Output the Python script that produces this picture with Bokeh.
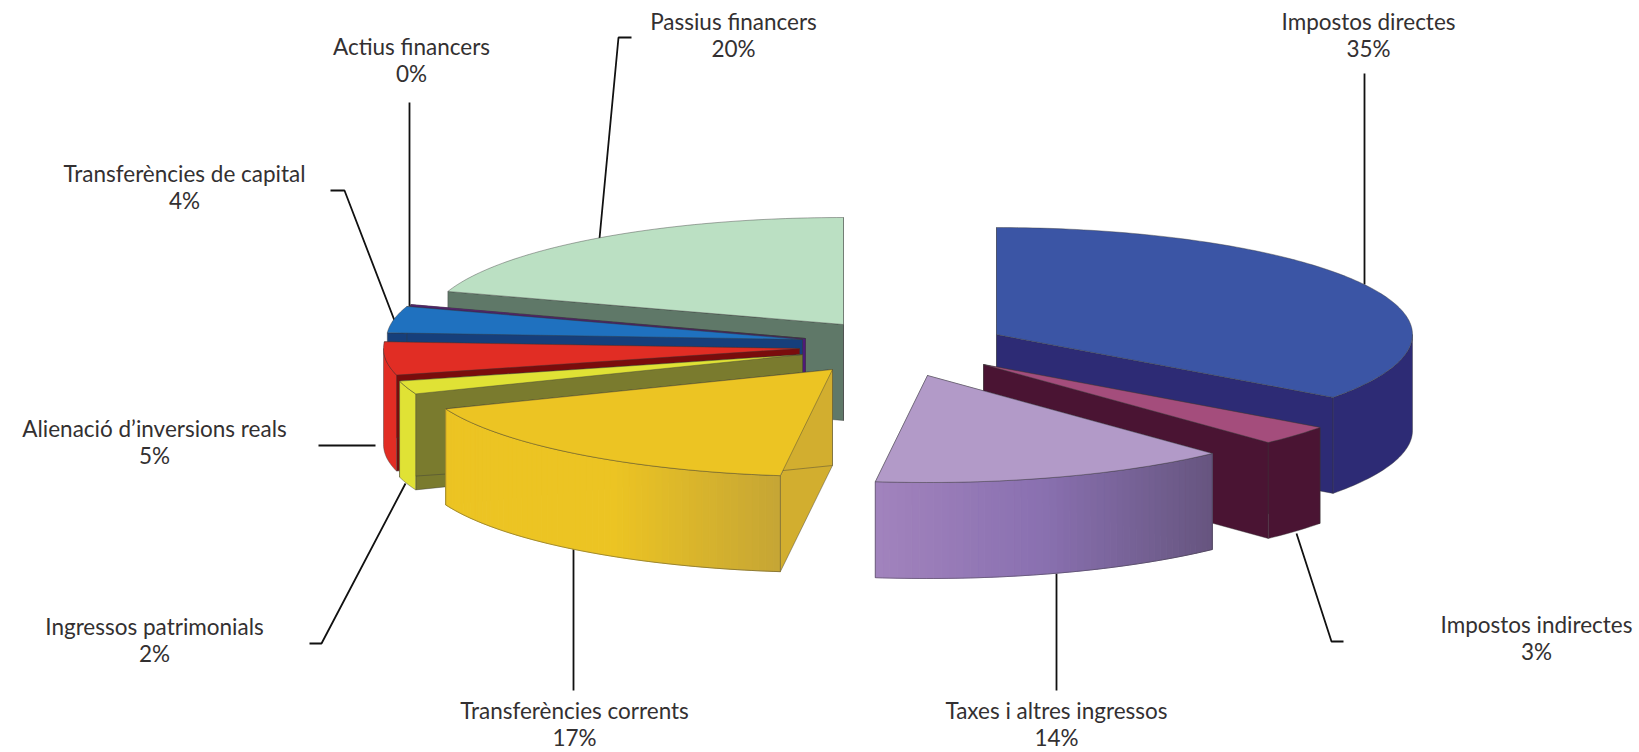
import math
from bokeh.plotting import figure
from bokeh.models import ColumnDataSource, Range1d
from bokeh.embed import file_html
from bokeh.resources import INLINE
from bokeh.core.properties import value

# ---- data (share of income, per cent, clockwise from 12 o'clock)
names = ["Impostos directes", "Impostos indirectes", "Taxes i altres ingressos",
         "Transferències corrents", "Ingressos patrimonials",
         "Alienació d’inversions reals", "Transferències de capital",
         "Actius financers", "Passius financers"]
values = [35, 3, 14, 17, 2, 5, 4, 0, 20]

# ---- styling / layout
top_colors = ["#3b55a5", "#a44d7c", "#b29ac8", "#ecc423", "#e0e235", "#e12d24", "#1f71bf", "#6a1b8b", "#bbe0c3"]
face_colors = ["#2d2b75", "#4a1433", "#8a70b0", "#d2ae2f", "#7a7b2e", "#7a0c0c", "#163f7b", "#4f1a78", "#5f7868"]
wall_stops = [["#2d2b75"], ["#4a1433"], ["#a283bd", "#8970b0", "#66557f"],
              ["#ecc423", "#ecc423", "#c5a535"], ["#e0e235"], ["#e12d24"],
              ["#163f7b"], ["#4f1a78"], ["#5f7868"]]
centers = [(996, 334), (983, 364), (927, 375), (832, 369), (802, 354),
           (799, 348), (802, 339), (805, 338), (843, 324)]
draw_order = [8, 7, 6, 5, 4, 3, 0, 1, 2]
RX, RY, DEPTH = 416, 107, 96
MIN_SWEEP = 0.5

label_x = [1368, 1536, 1056, 574, 154, 154, 184, 411, 733]
label_y = [21, 624, 710, 710, 626, 428, 173, 46, 21]
LINE_GAP = 27
leaders = [[(1364, 73), (1364, 284)],
           [(1343, 641), (1331, 641), (1296, 533)],
           [(1056, 573), (1056, 690)],
           [(573, 546), (573, 690)],
           [(309, 643), (321, 643), (405, 483)],
           [(318, 445), (375, 445)],
           [(330, 190), (344, 190), (394, 320)],
           [(409, 102), (409, 306)],
           [(631, 37), (618, 37), (599, 238)]]
FONT = "Lato"
TEXT = "#333031"
OUTLINE = "#3a3a3a"


def hex2rgb(h):
    return tuple(int(h[i:i + 2], 16) for i in (1, 3, 5))


def ramp(stops, t):
    if len(stops) == 1:
        return stops[0]
    t = max(0.0, min(1.0, t)) * (len(stops) - 1)
    i = min(int(t), len(stops) - 2)
    a, b = hex2rgb(stops[i]), hex2rgb(stops[i + 1])
    f = t - i
    return "#%02x%02x%02x" % tuple(round(a[k] + (b[k] - a[k]) * f) for k in range(3))


def rim(c, deg):
    r = math.radians(deg)
    return c[0] + RX * math.sin(r), c[1] - RY * math.cos(r)


def arc(c, a0, a1, step=1.0):
    n = max(2, int(abs(a1 - a0) / step) + 1)
    return [rim(c, a0 + (a1 - a0) * i / (n - 1)) for i in range(n)]


xs, ys, fills, falpha, lines, lalpha, lwidth = [], [], [], [], [], [], []


def add(pts, fill, line, la=0.6, lw=0.7, fa=1.0):
    xs.append([q[0] for q in pts])
    ys.append([q[1] for q in pts])
    fills.append(fill)
    falpha.append(fa)
    lines.append(line)
    lalpha.append(la)
    lwidth.append(lw)


starts, acc = [], 0.0
for v in values:
    starts.append(acc)
    acc += v
total = sum(values)

for i in draw_order:
    a0 = starts[i] / total * 360
    a1 = (starts[i] + values[i]) / total * 360
    a1 = max(a1, a0 + MIN_SWEEP)
    c = centers[i]
    down = lambda pts: [(q[0], q[1] + DEPTH) for q in pts]
    # cut faces
    for a in (a0, a1):
        edge = [c, rim(c, a)]
        add(edge + down(edge)[::-1], face_colors[i], OUTLINE)
    # outer wall (front half only)
    w0, w1 = max(a0, 90), min(a1, 270)
    if w1 > w0:
        pts = arc(c, w0, w1)
        xmin = min(q[0] for q in pts)
        xmax = max(q[0] for q in pts)
        if len(wall_stops[i]) > 1:
            for k in range(len(pts) - 1):
                seg = pts[k:k + 2]
                t = ((seg[0][0] + seg[1][0]) / 2 - xmin) / (xmax - xmin)
                col = ramp(wall_stops[i], t)
                add(seg + down(seg)[::-1], col, col, la=1, lw=1)
            add(pts + down(pts)[::-1], "#000000", OUTLINE, fa=0.0)
        else:
            add(pts + down(pts)[::-1], wall_stops[i][0], OUTLINE)
    # top surface
    add([c] + arc(c, a0, a1), top_colors[i], OUTLINE)

p = figure(width=1639, height=752, output_backend="svg", toolbar_location=None,
           x_range=Range1d(0, 1639), y_range=Range1d(752, 0),
           x_axis_type=None, y_axis_type=None, min_border=0)
p.outline_line_color = None
p.grid.visible = False
p.background_fill_color = "white"

# leader lines go behind the pie
p.multi_line(xs=[[q[0] for q in l] for l in leaders], ys=[[q[1] for q in l] for l in leaders],
             line_color="#111111", line_width=1.8)

p.patches("xs", "ys", source=ColumnDataSource(dict(xs=xs, ys=ys, f=fills, fa=falpha, l=lines, la=lalpha, lw=lwidth)),
          fill_color="f", fill_alpha="fa", line_color="l", line_alpha="la", line_width="lw")

tx = label_x + label_x
ty = label_y + [y + LINE_GAP for y in label_y]
tt = names + [f"{v}%" for v in values]
p.text(tx, ty, text=tt, text_align="center", text_baseline="middle",
       text_font=value(FONT), text_font_size="22.5px", text_color=TEXT)

open("out.html", "w").write(file_html(p, INLINE))
